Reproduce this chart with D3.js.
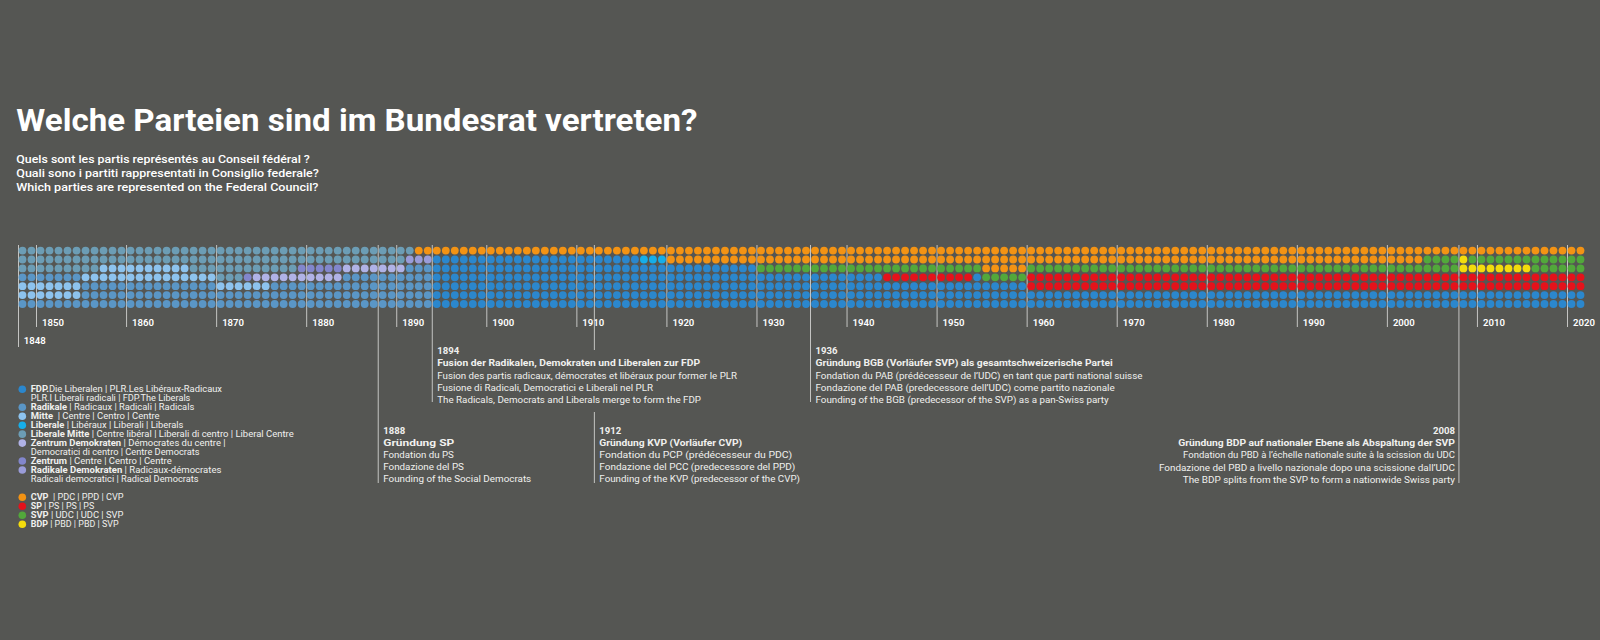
<!DOCTYPE html>
<html><head><meta charset="utf-8">
<script src="https://cdn.jsdelivr.net/npm/d3@7"></script>
<style>
html,body{margin:0;padding:0;background:#555653;}
svg{display:block;font-family:Roboto,"Liberation Sans",sans-serif;}
</style></head><body>
<svg id="chart" width="1600" height="640"></svg>
<script>
// ---------------- DATA ----------------
const firstYear = 1848;
const lastYear = 2021;
const decadeTicks = [1850,1860,1870,1880,1890,1900,1910,1920,1930,1940,1950,1960,1970,1980,1990,2000,2010,2020];
const startTick = 1848;

const partyKeys   = ["FDP","RAD","MIT","LIB","LM","ZD","ZEN","RD","CVP","SP","SVP","BDP"];
const partyColors = ["#2b87cd","#5a96c6","#8dc3ee","#16aee9","#6c9db5","#b0b2e6","#8286cc","#9a9cd9","#f39314","#e5121b","#52a83b","#f3dc0c"];

// seats (rows top to bottom): runs of [party, fromYear, toYear]
const seat1 = [["LM",1848,1891],["CVP",1892,2021]];
const seat2 = [["LM",1848,1890],["RD",1891,1893],["FDP",1894,1916],["LIB",1917,1919],["CVP",1920,2003],["SVP",2004,2007],["BDP",2008,2008],["SVP",2009,2021]];
const seat3 = [["LM",1848,1856],["MIT",1857,1866],["LM",1867,1878],["ZEN",1879,1883],["ZD",1884,1890],["RAD",1891,1893],["FDP",1894,1929],["SVP",1930,1954],["CVP",1955,1959],["SVP",1960,2007],["BDP",2008,2015],["SVP",2016,2021]];
const seat4 = [["RAD",1848,1854],["MIT",1855,1869],["LM",1870,1872],["ZEN",1873,1873],["ZD",1874,1883],["RAD",1884,1893],["FDP",1894,1943],["SP",1944,1953],["FDP",1954,1954],["SVP",1955,1959],["SP",1960,2021]];
const seat5 = [["MIT",1848,1854],["RAD",1855,1869],["MIT",1870,1875],["RAD",1876,1893],["FDP",1894,1959],["SP",1960,2021]];
const seat6 = [["MIT",1848,1854],["RAD",1855,1893],["FDP",1894,2021]];
const seat7 = [["RAD",1848,1893],["FDP",1894,2021]];
const seats = [seat1,seat2,seat3,seat4,seat5,seat6,seat7];

const titleText = "Welche Parteien sind im Bundesrat vertreten?";
const subtitleLines = [
  "Quels sont les partis représentés au Conseil fédéral ?",
  "Quali sono i partiti rappresentati in Consiglio federale?",
  "Which parties are represented on the Federal Council?"
];

const legendKeys  = ["FDP","RAD","MIT","LIB","LM","ZD","ZEN","RD","CVP","SP","SVP","BDP"];
const legendBold  = ["FDP.","Radikale","Mitte","Liberale","Liberale Mitte","Zentrum Demokraten","Zentrum","Radikale Demokraten","CVP","SP","SVP","BDP"];
const legendRest  = [
  ["Die Liberalen | PLR.Les Libéraux-Radicaux","PLR.I Liberali radicali | FDP.The Liberals"],
  [" | Radicaux | Radicali | Radicals"],
  ["  | Centre | Centro | Centre"],
  [" | Libéraux | Liberali | Liberals"],
  [" | Centre libéral | Liberali di centro | Liberal Centre"],
  [" | Démocrates du centre |","Democratici di centro | Centre Democrats"],
  [" | Centre | Centro | Centre"],
  [" | Radicaux-démocrates","Radicali democratici | Radical Democrats"],
  ["  | PDC | PPD | CVP"],
  [" | PS | PS | PS"],
  [" | UDC | UDC | SVP"],
  [" | PBD | PBD | SVP"]
];

const eventYears = [1888,1894,1912,1936,2008];
const eventLines = [
  ["1888","Gründung SP","Fondation du PS","Fondazione del PS","Founding of the Social Democrats"],
  ["1894","Fusion der Radikalen, Demokraten und Liberalen zur FDP","Fusion des partis radicaux, démocrates et libéraux pour former le PLR","Fusione di Radicali, Democratici e Liberali nel PLR","The Radicals, Democrats and Liberals merge to form the FDP"],
  ["1912","Gründung KVP (Vorläufer CVP)","Fondation du PCP (prédécesseur du PDC)","Fondazione del PCC (predecessore del PPD)","Founding of the KVP (predecessor of the CVP)"],
  ["1936","Gründung BGB (Vorläufer SVP) als gesamtschweizerische Partei","Fondation du PAB (prédécesseur de l’UDC) en tant que parti national suisse","Fondazione del PAB (predecessore dell’UDC) come partito nazionale","Founding of the BGB (predecessor of the SVP) as a pan-Swiss party"],
  ["2008","Gründung BDP auf nationaler Ebene als Abspaltung der SVP","Fondation du PBD à l’échelle nationale suite à la scission du UDC","Fondazione del PBD a livello nazionale dopo una scissione dall’UDC","The BDP splits from the SVP to form a nationwide Swiss party"]
];

// ---------------- LAYOUT ----------------
const L = {
  x0: 18, x1: 1567,           // x of 1848 and 2020 boundaries
  rowTop: 250.6, rowBot: 304, r: 3.9,
  lineTop: 245, tickBottom: 327, startBottom: 347,
  eventText: [
    {dx: 5, y: 433.5, anchor: "start", segs: [[245,483]], widths:[null,71,71,81,148]},
    {dx: 5, y: 354.2, anchor: "start", segs: [[245,402]], widths:[null,263,300,216,264]},
    {dx: 5, y: 433.5, anchor: "start", segs: [[245,350],[412,483]], widths:[null,143,193,196,201]},
    {dx: 5, y: 354.2, anchor: "start", segs: [[245,402]], widths:[null,298,327,299,294]},
    {dx: -4, y: 434, anchor: "end", segs: [[245,483]], widths:[null,277,272,296,273]}
  ],
  lineGap: 12.2,
  legendDotX: 22.3, legendTextX: 30.7, legendY1: 389.3, legendY2: 497.3, legendPitch: 8.97,
  legendWidths: [[192,160],[164],[129],[153],[263],[195,169],[141],[191,168],[93],[64],[93],[88]]
};

const colorOf = d3.scaleOrdinal().domain(partyKeys).range(partyColors);
const x = d3.scaleLinear().domain([startTick, 2020]).range([L.x0, L.x1]);
const y = d3.scaleLinear().domain([0, seats.length - 1]).range([L.rowTop, L.rowBot]);

const svg = d3.select("#chart");

function fitWidth(sel, w, ax) {
  if (!w) return;
  const node = sel.node();
  const bw = node.getBBox().width;
  if (bw > 0) {
    const k = w / bw;
    sel.attr("transform", `translate(${ax},0) scale(${k},1) translate(${-ax},0)`);
  }
}

// Title
const t = svg.append("text").attr("x", 16.3).attr("y", 131)
  .attr("fill", "#ffffff").attr("font-size", 31.5).attr("font-weight", 700)
  .text(titleText);
fitWidth(t, 681.5, 16.3);

const subW = [294, 303, 303];
const subY = [163.3, 176.6, 190.9];
subtitleLines.forEach((s, i) => {
  const st = svg.append("text").attr("x", 16.3).attr("y", subY[i])
    .attr("fill", "#ffffff").attr("font-size", 11.2).attr("font-weight", 500).text(s);
  fitWidth(st, subW[i], 16.3);
});

// Axis: decade ticks
const axisG = svg.append("g").attr("transform", `translate(0,${L.lineTop})`)
  .call(d3.axisBottom(x).tickValues(decadeTicks).tickSize(L.tickBottom - L.lineTop).tickFormat(d3.format("d")));
axisG.select(".domain").remove();
axisG.selectAll(".tick line").attr("stroke", "#c4c4c2").attr("stroke-width", 1);
axisG.selectAll(".tick text").attr("fill", "#ffffff").attr("font-size", 9.6).attr("font-weight", 600)
  .attr("text-anchor", "start").attr("x", 5.5).attr("y", 81.2).attr("dy", null)
  .attr("font-family", "Roboto,'Liberation Sans',sans-serif");

// 1848 start line
const startG = svg.append("g").attr("transform", `translate(0,${L.lineTop})`)
  .call(d3.axisBottom(x).tickValues([startTick]).tickSize(L.startBottom - L.lineTop).tickFormat(d3.format("d")));
startG.select(".domain").remove();
startG.selectAll(".tick line").attr("stroke", "#c4c4c2").attr("stroke-width", 1);
startG.selectAll(".tick text").attr("fill", "#ffffff").attr("font-size", 9.6).attr("font-weight", 600)
  .attr("text-anchor", "start").attr("x", 5.3).attr("y", 98.5).attr("dy", null)
  .attr("font-family", "Roboto,'Liberation Sans',sans-serif");

// Event lines
eventYears.forEach((yr, i) => {
  const lay = L.eventText[i];
  lay.segs.forEach(s => {
    svg.append("line").attr("x1", x(yr)).attr("x2", x(yr)).attr("y1", s[0]).attr("y2", s[1])
      .attr("stroke", "#c4c4c2").attr("stroke-width", 1);
  });
});

// Dots
const cells = [];
seats.forEach((runs, row) => {
  runs.forEach(([p, a, b]) => {
    for (let yr = a; yr <= b; yr++) cells.push({row, year: yr, party: p});
  });
});
svg.append("g").selectAll("circle").data(cells).join("circle")
  .attr("cx", d => x(d.year + 0.5))
  .attr("cy", d => y(d.row))
  .attr("r", L.r)
  .attr("fill", d => colorOf(d.party));

// Event texts
eventYears.forEach((yr, i) => {
  const lay = L.eventText[i];
  const ax = x(yr) + lay.dx;
  eventLines[i].forEach((s, j) => {
    const tt = svg.append("text").attr("x", ax).attr("y", lay.y + j * L.lineGap)
      .attr("text-anchor", lay.anchor).attr("fill", "#f0f0ee")
      .attr("font-size", 9.6).attr("font-weight", j < 2 ? 700 : 400).text(s);
    fitWidth(tt, lay.widths[j], ax);
  });
});

// Legend
let lineIdx = 0;
legendKeys.forEach((k, i) => {
  const base = i < 8 ? L.legendY1 : L.legendY2;
  if (i === 8) lineIdx = 0;
  const cy = base + lineIdx * L.legendPitch;
  svg.append("circle").attr("cx", L.legendDotX).attr("cy", cy).attr("r", 3.8).attr("fill", colorOf(k));
  legendRest[i].forEach((line, j) => {
    const ly = base + (lineIdx + j) * L.legendPitch + 3.2;
    const tx = svg.append("text").attr("x", L.legendTextX).attr("y", ly)
      .attr("fill", "#f0f0ee").attr("font-size", 9.2);
    if (j === 0) {
      tx.append("tspan").attr("font-weight", 700).text(legendBold[i]);
      tx.append("tspan").attr("font-weight", 400).attr("xml:space", "preserve").text(line);
    } else {
      tx.append("tspan").attr("font-weight", 400).text(line);
    }
    tx.attr("xml:space", "preserve");
    fitWidth(tx, L.legendWidths[i][j], L.legendTextX);
  });
  lineIdx += legendRest[i].length;
});
</script>
</body></html>
